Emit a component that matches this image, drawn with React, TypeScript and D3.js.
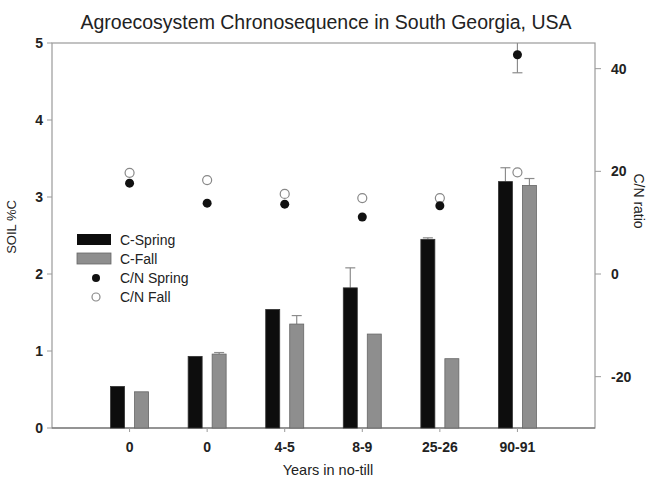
import React from 'react'
import * as d3 from 'd3'

// data
const categories = ['0', '0', '4-5', '8-9', '25-26', '90-91']
const cSpring = [0.54, 0.93, 1.54, 1.82, 2.45, 3.2]
const cSpringErr = [0, 0, 0, 0.26, 0.02, 0.18]
const cFall = [0.47, 0.96, 1.35, 1.22, 0.9, 3.15]
const cFallErr = [0, 0.02, 0.11, 0, 0, 0.09]
const cnSpring = [17.7, 13.8, 13.6, 11.1, 13.3, 42.7]
const cnSpringErr = [0, 0, 0, 0, 0, 3.5]
const cnFall = [19.7, 18.3, 15.6, 14.8, 14.8, 19.8]
const leftTicks = [0, 1, 2, 3, 4, 5]
const rightTicks = [-20, 0, 20, 40]

const W = 647, H = 478
const left = 52, right = 595, top = 43, bottom = 428
const font = 'Liberation Sans, Arial, sans-serif'

export default function App() {
  const x = d3.scaleLinear().domain([-1, 6]).range([left, right])
  const y = d3.scaleLinear().domain([0, 5]).range([bottom, top])
  const y2 = d3.scaleLinear().domain([-30, 45]).range([bottom, top])
  const barW = 14, off = 12
  const frame = '#9a9a9a'
  const errC = '#8c8c8c'

  const errBar = (cx: number, v: number, e: number, scale: d3.ScaleLinear<number, number>, both: boolean, key: string) => {
    if (!e) return null
    const y0 = scale(v), y1 = Math.max(top, scale(v + e)), y3 = scale(v - e)
    return (
      <g key={key} stroke={errC} strokeWidth={1.2}>
        <line x1={cx} x2={cx} y1={y0} y2={y1} />
        {scale(v + e) >= top && <line x1={cx - 5} x2={cx + 5} y1={y1} y2={y1} />}
        {both && <line x1={cx} x2={cx} y1={y0} y2={y3} />}
        {both && <line x1={cx - 5} x2={cx + 5} y1={y3} y2={y3} />}
      </g>
    )
  }

  return (
    <svg width={W} height={H} style={{ position: 'absolute', left: 0, top: 0, background: '#fff' }} fontFamily={font}>
      <text x={326} y={29} textAnchor="middle" fontSize={19.5} fill="#222">Agroecosystem Chronosequence in South Georgia, USA</text>

      {/* frame */}
      <rect x={left} y={top} width={right - left} height={bottom - top} fill="none" stroke={frame} strokeWidth={1.2} />
      <line x1={left} x2={right} y1={bottom} y2={bottom} stroke="#666" strokeWidth={1.2} />

      {/* left axis */}
      {leftTicks.map(t => (
        <g key={'l' + t}>
          <line x1={left - 5} x2={left} y1={y(t)} y2={y(t)} stroke={frame} />
          <text x={43} y={y(t) + 5} textAnchor="end" fontSize={14} fontWeight="bold" fill="#222">{t}</text>
        </g>
      ))}
      <text transform={`translate(16,227) rotate(-90)`} textAnchor="middle" fontSize={13} fill="#222">SOIL %C</text>

      {/* right axis */}
      {rightTicks.map(t => (
        <g key={'r' + t}>
          <line x1={right} x2={right + 6} y1={y2(t)} y2={y2(t)} stroke={frame} />
          <text x={611} y={y2(t) + 5} textAnchor="start" fontSize={14} fontWeight="bold" fill="#222">{t}</text>
        </g>
      ))}
      <text transform={`translate(634,201) rotate(90)`} textAnchor="middle" fontSize={14} fill="#222">C/N ratio</text>

      {/* x axis */}
      {categories.map((c, i) => (
        <g key={'x' + i}>
          <line x1={x(i)} x2={x(i)} y1={bottom} y2={bottom + 4} stroke={frame} />
          <text x={x(i)} y={452} textAnchor="middle" fontSize={14} fontWeight="bold" fill="#222">{c}</text>
        </g>
      ))}
      <text x={328} y={475} textAnchor="middle" fontSize={14.5} fill="#222">Years in no-till</text>

      {/* bars */}
      {categories.map((c, i) => (
        <g key={'b' + i}>
          {errBar(x(i) - off, cSpring[i], cSpringErr[i], y, false, 'es' + i)}
          {errBar(x(i) + off, cFall[i], cFallErr[i], y, false, 'ef' + i)}
          <rect x={x(i) - off - barW / 2} y={y(cSpring[i])} width={barW} height={bottom - y(cSpring[i])} fill="#0d0d0d" stroke="#333" strokeWidth={0.8} />
          <rect x={x(i) + off - barW / 2} y={y(cFall[i])} width={barW} height={bottom - y(cFall[i])} fill="#8e8e8e" stroke="#666" strokeWidth={0.8} />
        </g>
      ))}

      {/* C/N points */}
      {categories.map((c, i) => (
        <g key={'p' + i}>
          {errBar(x(i), cnSpring[i], cnSpringErr[i], y2, true, 'en' + i)}
          <circle cx={x(i)} cy={y2(cnFall[i])} r={4.5} fill="#fff" stroke="#888" strokeWidth={1.2} />
          <circle cx={x(i)} cy={y2(cnSpring[i])} r={4.5} fill="#111" />
        </g>
      ))}

      {/* legend */}
      <g fontSize={14} fill="#222">
        <rect x={77} y={234} width={34} height={11} fill="#0d0d0d" />
        <text x={120} y={245}>C-Spring</text>
        <rect x={77} y={253} width={34} height={11} fill="#8e8e8e" stroke="#666" strokeWidth={0.8} />
        <text x={120} y={264}>C-Fall</text>
        <circle cx={96} cy={278} r={4} fill="#111" />
        <text x={120} y={283}>C/N Spring</text>
        <circle cx={96} cy={297} r={4} fill="#fff" stroke="#888" strokeWidth={1.2} />
        <text x={120} y={302}>C/N Fall</text>
      </g>
    </svg>
  )
}
